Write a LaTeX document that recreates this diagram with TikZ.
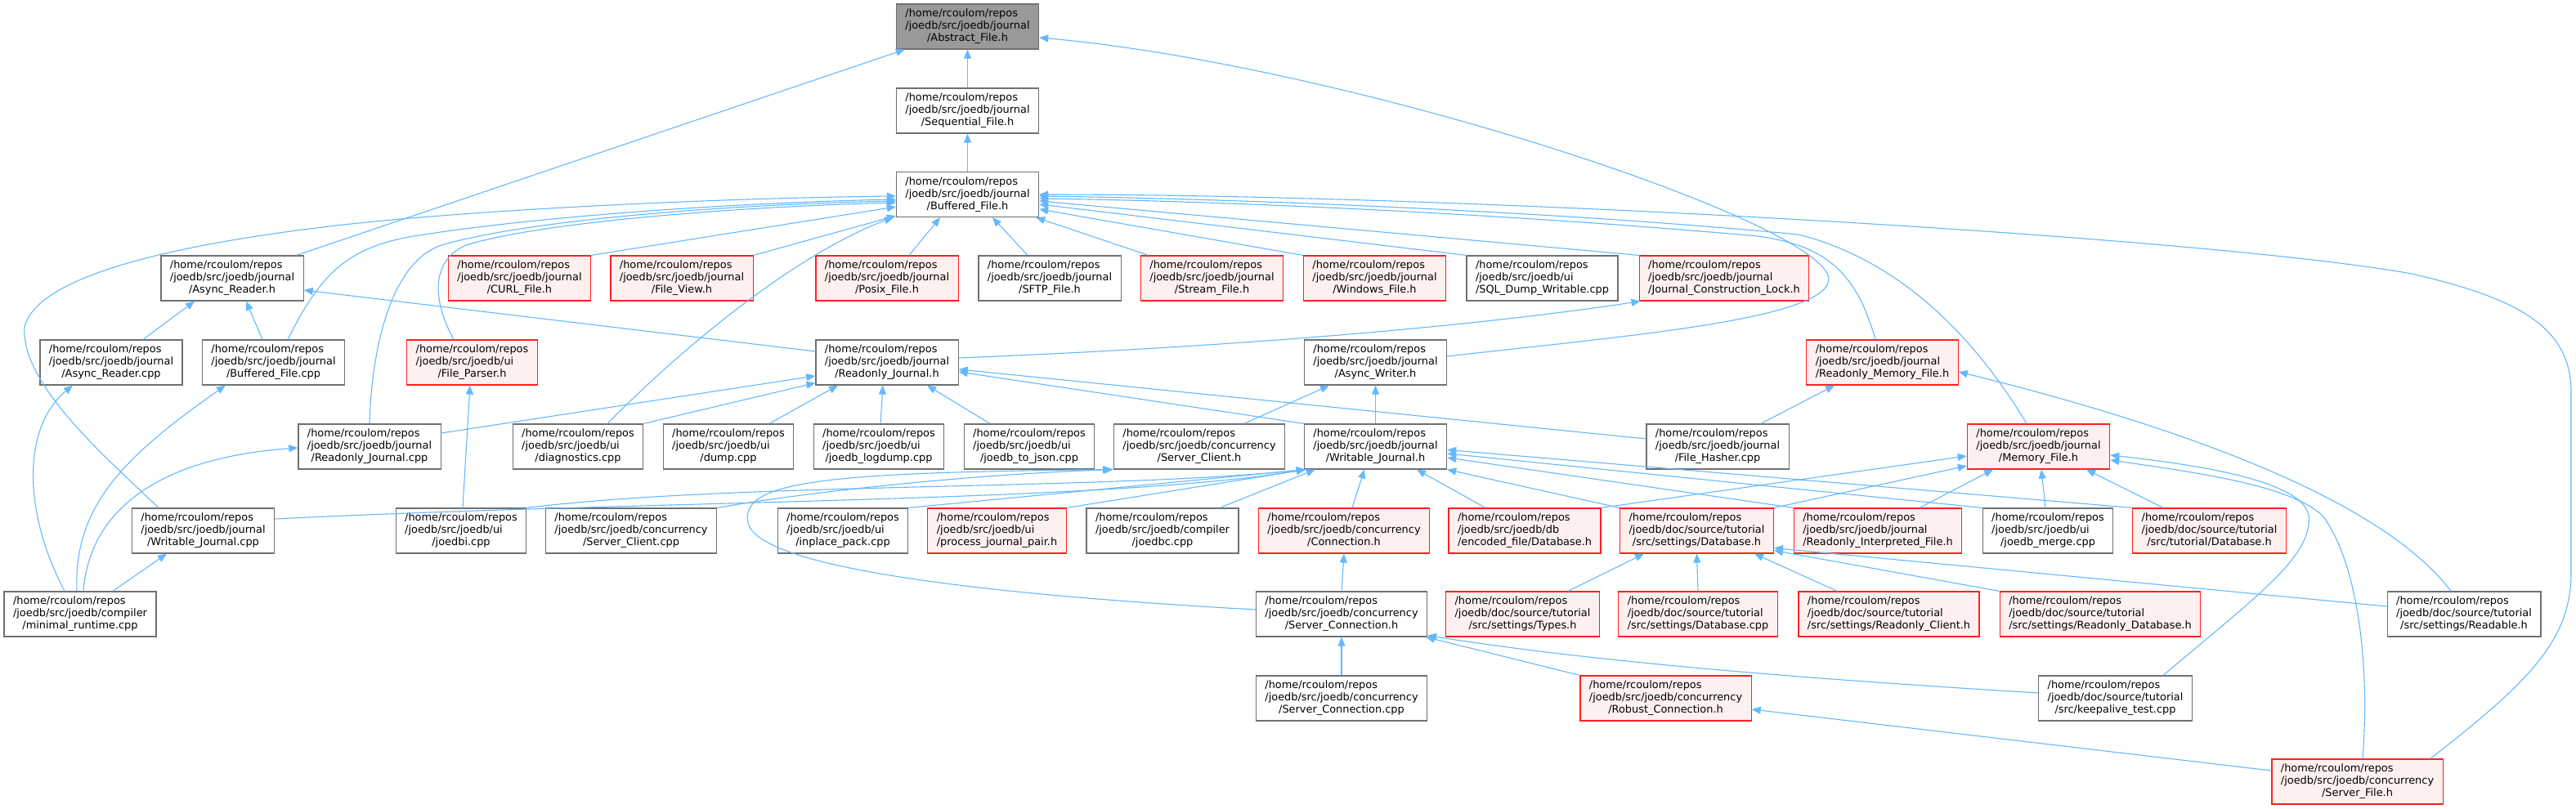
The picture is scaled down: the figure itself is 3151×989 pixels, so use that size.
\documentclass[tikz,border=0pt]{standalone}
\usepackage{fontspec}
\setmainfont{DejaVu Sans}
\usetikzlibrary{arrows.meta}
\definecolor{edgeblue}{HTML}{63B8FF}
\definecolor{boxgray}{HTML}{707070}
\definecolor{rootfill}{HTML}{999999}
\definecolor{truncfill}{HTML}{FFF0F0}
\definecolor{truncred}{HTML}{FF2020}
\newcommand{\fpath}[2]{\begin{tabular}{@{}l@{}}/home/rcoulom/repos\\#1\\\multicolumn{1}{@{}c@{}}{#2}\end{tabular}}
\begin{document}
\begin{tikzpicture}[x=1pt,y=-1pt,>={Triangle[length=11pt,width=9pt]},
	file/.style={draw=boxgray,fill=white,line width=1.2pt,inner xsep=11pt,inner ysep=5pt,font=\fontsize{12.9}{15}\selectfont},
	trunc/.style={file,draw=truncred,fill=truncfill},
	root/.style={file,fill=rootfill},
	dep/.style={->,draw=edgeblue,line width=1.1pt}]
				\useasboundingbox (0,0) rectangle (3151,989);
				\node[root] (abs) at (1183.5,32.5) {\fpath{/joedb/src/joedb/journal}{/Abstract\_File.h}};
				\node[file] (seq) at (1183.5,135.5) {\fpath{/joedb/src/joedb/journal}{/Sequential\_File.h}};
				\node[file] (buf) at (1183.5,238) {\fpath{/joedb/src/joedb/journal}{/Buffered\_File.h}};
				\node[file] (areader) at (284,340.5) {\fpath{/joedb/src/joedb/journal}{/Async\_Reader.h}};
				\node[trunc] (curl) at (635.5,340.5) {\fpath{/joedb/src/joedb/journal}{/CURL\_File.h}};
				\node[trunc] (fview) at (834,340.5) {\fpath{/joedb/src/joedb/journal}{/File\_View.h}};
				\node[trunc] (posix) at (1085,340.5) {\fpath{/joedb/src/joedb/journal}{/Posix\_File.h}};
				\node[file] (sftp) at (1284,340.5) {\fpath{/joedb/src/joedb/journal}{/SFTP\_File.h}};
				\node[trunc] (stream) at (1482.5,340.5) {\fpath{/joedb/src/joedb/journal}{/Stream\_File.h}};
				\node[trunc] (winf) at (1681.5,340.5) {\fpath{/joedb/src/joedb/journal}{/Windows\_File.h}};
				\node[file] (sqldump) at (1886.5,340.5) {\fpath{/joedb/src/joedb/ui}{/SQL\_Dump\_Writable.cpp}};
				\node[trunc] (jlock) at (2109,340.5) {\fpath{/joedb/src/joedb/journal}{/Journal\_Construction\_Lock.h}};
				\node[file] (arcpp) at (136,443.5) {\fpath{/joedb/src/joedb/journal}{/Async\_Reader.cpp}};
				\node[file] (bfcpp) at (334.5,443.5) {\fpath{/joedb/src/joedb/journal}{/Buffered\_File.cpp}};
				\node[trunc] (fparser) at (577.5,443.5) {\fpath{/joedb/src/joedb/ui}{/File\_Parser.h}};
				\node[file] (rjh) at (1085,443.5) {\fpath{/joedb/src/joedb/journal}{/Readonly\_Journal.h}};
				\node[file] (awh) at (1682.5,443.5) {\fpath{/joedb/src/joedb/journal}{/Async\_Writer.h}};
				\node[trunc] (rmf) at (2302.5,443.5) {\fpath{/joedb/src/joedb/journal}{/Readonly\_Memory\_File.h}};
				\node[file] (rjcpp) at (452,546.5) {\fpath{/joedb/src/joedb/journal}{/Readonly\_Journal.cpp}};
				\node[file] (diag) at (707,546.5) {\fpath{/joedb/src/joedb/ui}{/diagnostics.cpp}};
				\node[file] (dump) at (891,546.5) {\fpath{/joedb/src/joedb/ui}{/dump.cpp}};
				\node[file] (logdump) at (1075,546.5) {\fpath{/joedb/src/joedb/ui}{/joedb\_logdump.cpp}};
				\node[file] (tojson) at (1259,546.5) {\fpath{/joedb/src/joedb/ui}{/joedb\_to\_json.cpp}};
				\node[file] (sclient) at (1467,546.5) {\fpath{/joedb/src/joedb/concurrency}{/Server\_Client.h}};
				\node[file] (wjh) at (1682.5,546.5) {\fpath{/joedb/src/joedb/journal}{/Writable\_Journal.h}};
				\node[file] (fhash) at (2101,546.5) {\fpath{/joedb/src/joedb/journal}{/File\_Hasher.cpp}};
				\node[trunc] (memf) at (2493.5,546.5) {\fpath{/joedb/src/joedb/journal}{/Memory\_File.h}};
				\node[file] (wjcpp) at (248.5,649.5) {\fpath{/joedb/src/joedb/journal}{/Writable\_Journal.cpp}};
				\node[file] (joedbi) at (564,649.5) {\fpath{/joedb/src/joedb/ui}{/joedbi.cpp}};
				\node[file] (sccpp) at (772,649.5) {\fpath{/joedb/src/joedb/concurrency}{/Server\_Client.cpp}};
				\node[file] (inplace) at (1031,649.5) {\fpath{/joedb/src/joedb/ui}{/inplace\_pack.cpp}};
				\node[trunc] (pjpair) at (1219.5,649.5) {\fpath{/joedb/src/joedb/ui}{/process\_journal\_pair.h}};
				\node[file] (joedbc) at (1422,649.5) {\fpath{/joedb/src/joedb/compiler}{/joedbc.cpp}};
				\node[trunc] (conn) at (1644,649.5) {\fpath{/joedb/src/joedb/concurrency}{/Connection.h}};
				\node[trunc] (encdb) at (1865,649.5) {\fpath{/joedb/src/joedb/db}{/encoded\_file/Database.h}};
				\node[trunc] (setdb) at (2075.5,649.5) {\fpath{/joedb/doc/source/tutorial}{/src/settings/Database.h}};
				\node[trunc] (rifile) at (2297,649.5) {\fpath{/joedb/src/joedb/journal}{/Readonly\_Interpreted\_File.h}};
				\node[file] (merge) at (2505,649.5) {\fpath{/joedb/src/joedb/ui}{/joedb\_merge.cpp}};
				\node[trunc] (tutdb) at (2702.5,649.5) {\fpath{/joedb/doc/source/tutorial}{/src/tutorial/Database.h}};
				\node[file] (minrt) at (98,751.5) {\fpath{/joedb/src/joedb/compiler}{/minimal\_runtime.cpp}};
				\node[file] (sconn) at (1641,751.5) {\fpath{/joedb/src/joedb/concurrency}{/Server\_Connection.h}};
				\node[trunc] (types) at (1862.5,751.5) {\fpath{/joedb/doc/source/tutorial}{/src/settings/Types.h}};
				\node[trunc] (dbcpp) at (2077,751.5) {\fpath{/joedb/doc/source/tutorial}{/src/settings/Database.cpp}};
				\node[trunc] (roclient) at (2310.5,751.5) {\fpath{/joedb/doc/source/tutorial}{/src/settings/Readonly\_Client.h}};
				\node[trunc] (rodb) at (2569,751.5) {\fpath{/joedb/doc/source/tutorial}{/src/settings/Readonly\_Database.h}};
				\node[file] (readable) at (3014,751.5) {\fpath{/joedb/doc/source/tutorial}{/src/settings/Readable.h}};
				\node[file] (sconncpp) at (1641,854.5) {\fpath{/joedb/src/joedb/concurrency}{/Server\_Connection.cpp}};
				\node[trunc] (robust) at (2037.5,854.5) {\fpath{/joedb/src/joedb/concurrency}{/Robust\_Connection.h}};
				\node[file] (keepalive) at (2587.5,854.5) {\fpath{/joedb/doc/source/tutorial}{/src/keepalive\_test.cpp}};
				\node[trunc] (sfile) at (2883.5,956.5) {\fpath{/joedb/src/joedb/concurrency}{/Server\_File.h}};
				\draw[dep] (seq.north) -- (abs.south);
				\draw[dep] (buf.north) -- (seq.south);
				\draw[dep] ([xshift=-9pt]areader.north east) -- ([xshift=11pt]abs.south west);
				\draw[dep] ([yshift=7.5pt]awh.east) .. controls (2000,410) and (2240,390) .. (2237,340) .. controls (2225,270) and (1650,80) .. ([yshift=-13.5pt]abs.east);
				\draw[dep] ([xshift=-54.5pt]wjcpp.north) .. controls (130,560) and (25,470) .. (30,400) .. controls (45,340) and (200,300) .. (420,275) .. controls (600,255) and (900,242) .. ([yshift=-2pt]buf.west);
				\draw[dep] ([xshift=17.5pt]bfcpp.north) .. controls (390,340) and (420,305) .. (500,290) .. controls (650,265) and (900,248) .. ([yshift=-6pt]buf.west);
				\draw[dep] (rjcpp.north) .. controls (455,420) and (480,320) .. (540,300) .. controls (650,268) and (900,250) .. ([yshift=-8pt]buf.west);
				\draw[dep] ([xshift=-22.5pt]fparser.north) .. controls (530,370) and (525,320) .. (570,300) .. controls (660,272) and (900,253) .. ([yshift=-10pt]buf.west);
				\draw[dep] (curl.north east) -- ([yshift=-15pt]buf.west);
				\draw[dep] (fview.north east) -- ([yshift=2pt]buf.south west);
				\draw[dep] ([xshift=36pt]diag.north) .. controls (870,390) and (1000,300) .. ([xshift=-3pt]buf.south west);
				\draw[dep] ([xshift=27pt]posix.north) -- ([xshift=-33.5pt]buf.south);
				\draw[dep] ([xshift=-27pt]sftp.north) -- ([xshift=30.5pt]buf.south);
				\draw[dep] ([xshift=10pt]stream.north west) -- ([xshift=-4pt]buf.south east);
				\draw[dep] (winf.north west) -- ([yshift=-18pt]buf.east);
				\draw[dep] (sqldump.north west) -- ([yshift=-12pt]buf.east);
				\draw[dep] (jlock.north west) -- ([yshift=-8pt]buf.east);
				\draw[dep] ([xshift=-8.5pt]rmf.north) .. controls (2270,330) and (2230,300) .. (2150,289) .. controls (1850,262) and (1500,246) .. ([yshift=-5pt]buf.east);
				\draw[dep] ([xshift=-14.5pt]memf.north) .. controls (2420,420) and (2330,320) .. (2200,287) .. controls (1900,258) and (1500,243) .. ([yshift=-2pt]buf.east);
				\draw[dep] ([xshift=-16pt]sfile.north east) .. controls (3100,830) and (3145,780) .. (3145,700) -- (3145,480) .. controls (3145,400) and (3080,365) .. (2950,335) .. controls (2700,290) and (1800,238) .. (buf.east);
				\draw[dep] ([xshift=39pt]arcpp.north) -- ([xshift=-46pt]areader.south);
				\draw[dep] ([xshift=-13.5pt]bfcpp.north) -- ([xshift=17pt]areader.south);
				\draw[dep] ([yshift=13.5pt]rjh.west) -- ([yshift=-14.5pt]areader.east);
				\draw[dep] ([yshift=5.5pt]rjh.east) .. controls (1500,425) and (1800,400) .. ([xshift=2pt]jlock.south west);
				\draw[dep] ([yshift=16.5pt]rjcpp.east) -- ([yshift=-16.5pt]rjh.west);
				\draw[dep] (diag.north east) -- ([yshift=3pt]rjh.south west);
				\draw[dep] ([xshift=50pt]dump.north) -- ([xshift=-60pt]rjh.south);
				\draw[dep] ([xshift=2pt]logdump.north) -- ([xshift=-5pt]rjh.south);
				\draw[dep] ([xshift=-48pt]tojson.north) -- ([xshift=49pt]rjh.south);
				\draw[dep] (wjh.north west) -- ([yshift=-11.5pt]rjh.east);
				\draw[dep] ([yshift=9.5pt]fhash.west) -- ([yshift=-8.5pt]rjh.east);
				\draw[dep] ([xshift=55pt]sclient.north) -- ([xshift=-56.5pt]awh.south);
				\draw[dep] (wjh.north) -- (awh.south);
				\draw[dep] ([xshift=53pt]fhash.north) -- ([xshift=-58.5pt]rmf.south);
				\draw[dep] ([xshift=-16pt]readable.north) .. controls (2920,620) and (2700,530) .. ([yshift=-11.5pt]rmf.east);
				\draw[dep] (encdb.north east) -- ([yshift=-11.5pt]memf.west);
				\draw[dep] (setdb.north east) -- ([yshift=-23.5pt]memf.west);
				\draw[dep] ([xshift=51pt]rifile.north) -- ([xshift=-55.5pt]memf.south);
				\draw[dep] ([xshift=-3pt]merge.north) -- ([xshift=3.5pt]memf.south);
				\draw[dep] ([xshift=-56.5pt]tutdb.north) -- ([xshift=58.5pt]memf.south);
				\draw[dep] ([xshift=58.5pt]keepalive.north) .. controls (2760,730) and (2830,680) .. (2824,630) .. controls (2815,590) and (2700,570) .. ([yshift=-10.5pt]memf.east);
				\draw[dep] ([xshift=6.5pt]sfile.north) .. controls (2900,800) and (2880,680) .. (2840,630) .. controls (2800,595) and (2700,580) .. ([yshift=-16.5pt]memf.east);
				\draw[dep] ([yshift=5.5pt]sconn.west) .. controls (1250,730) and (930,700) .. (915,640) .. controls (905,590) and (1000,578) .. ([xshift=-2pt]sclient.south west);
				\draw[dep] (sccpp.north east) .. controls (1000,600) and (1200,580) .. (sclient.south west);
				\draw[dep] ([yshift=14.5pt]wjcpp.east) .. controls (800,612) and (1350,615) .. ([xshift=2pt]wjh.south west);
				\draw[dep] (joedbi.north east) .. controls (900,590) and (1350,600) .. ([xshift=2pt]wjh.south west);
				\draw[dep] (inplace.north east) -- ([xshift=2pt]wjh.south west);
				\draw[dep] (pjpair.north east) -- ([xshift=2pt]wjh.south west);
				\draw[dep] ([xshift=70pt]joedbc.north) -- ([xshift=14pt]wjh.south west);
				\draw[dep] ([xshift=10pt]conn.north) -- ([xshift=-13.5pt]wjh.south);
				\draw[dep] ([xshift=-48pt]encdb.north) -- ([xshift=50.5pt]wjh.south);
				\draw[dep] (setdb.north west) -- (wjh.south east);
				\draw[dep] (rifile.north west) -- ([yshift=-13.5pt]wjh.east);
				\draw[dep] (merge.north west) -- ([yshift=-8.5pt]wjh.east);
				\draw[dep] (tutdb.north west) -- ([yshift=-4pt]wjh.east);
				\draw[dep] ([xshift=2pt]joedbi.north) -- ([xshift=-2.5pt]fparser.south);
				\draw[dep] ([xshift=-19pt]minrt.north) .. controls (25,620) and (30,520) .. ([xshift=-47pt]arcpp.south);
				\draw[dep] ([xshift=-4pt]minrt.north) .. controls (90,620) and (150,560) .. ([xshift=29pt]bfcpp.south west);
				\draw[dep] ([xshift=4pt]minrt.north) .. controls (110,620) and (200,560) .. ([yshift=-1.5pt]rjcpp.west);
				\draw[dep] ([xshift=40pt]minrt.north) -- ([xshift=-44.5pt]wjcpp.south);
				\draw[dep] (sconn.north) -- (conn.south);
				\draw[dep] (sconncpp.north) -- (sconn.south);
				\draw[dep] (robust.north west) -- ([xshift=-2pt]sconn.south east);
				\draw[dep] ([yshift=6.5pt]keepalive.west) .. controls (2200,830) and (1950,810) .. ([yshift=2pt]sconn.south east);
				\draw[dep] ([yshift=13.5pt]sfile.west) -- ([yshift=-13.5pt]robust.east);
				\draw[dep] ([xshift=-39pt]types.north east) -- ([xshift=-64.5pt]setdb.south);
				\draw[dep] (dbcpp.north) -- (setdb.south);
				\draw[dep] ([xshift=48pt]roclient.north west) -- ([xshift=-24pt]setdb.south east);
				\draw[dep] (rodb.north west) -- ([yshift=4pt]setdb.south east);
				\draw[dep] ([yshift=9.5pt]readable.west) -- ([yshift=7pt]setdb.south east);
\end{tikzpicture}
\end{document}
